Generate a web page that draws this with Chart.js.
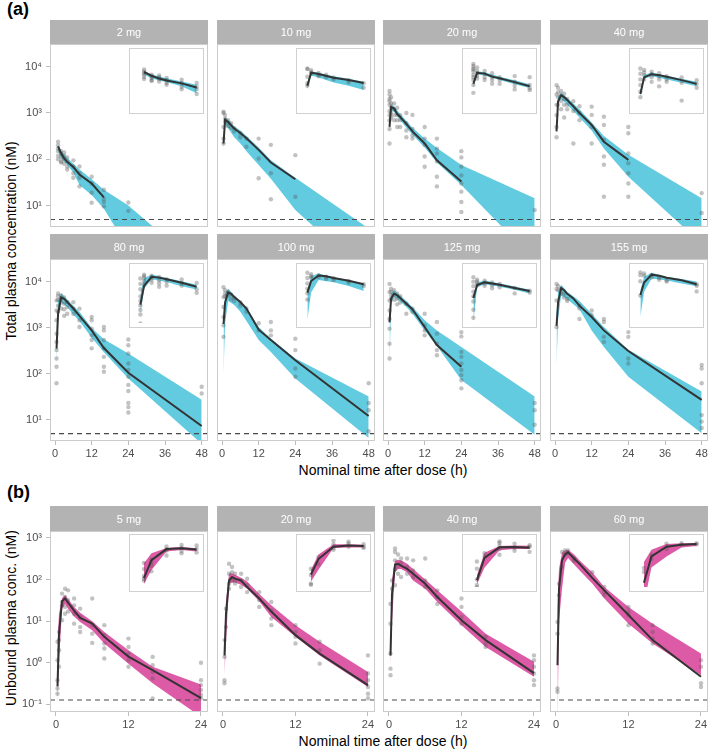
<!DOCTYPE html>
<html>
<head>
<meta charset="utf-8">
<script src="https://cdn.jsdelivr.net/npm/chart.js@4.4.1/dist/chart.umd.min.js"></script>
<style>
  body { margin: 0; background: #fff; width: 709px; height: 749px; position: relative; overflow: hidden;
         font-family: "Liberation Sans", Arial, sans-serif; color: #000; }
  .abs { position: absolute; }
  canvas { position: absolute; }
  .tag { font-weight: bold; font-size: 18px; line-height: 20px; }
  .ytitle { transform: rotate(-90deg); white-space: nowrap; font-size: 14px; line-height: 16px; text-align: center; }
  .xtitle { white-space: nowrap; font-size: 14px; line-height: 16px; text-align: center; }
  .inset { position: absolute; border: 1px solid #d0d0d0; background: #fff; box-sizing: border-box; }
</style>
</head>
<body>
<div class="abs tag" style="left:7px;top:-1px;">(a)</div>
<div class="abs tag" style="left:7px;top:482px;">(b)</div>
<div class="abs ytitle" style="left:-139px;top:233px;width:300px;">Total plasma concentration (nM)</div>
<div class="abs ytitle" style="left:-139px;top:610px;width:300px;">Unbound plasma conc. (nM)</div>
<div class="abs xtitle" style="left:183px;top:462px;width:400px;">Nominal time after dose (h)</div>
<div class="abs xtitle" style="left:183px;top:733px;width:400px;">Nominal time after dose (h)</div>

<script>
// ---- (a) total plasma concentration, 8 dose groups ----
const doseA = ['2 mg', '10 mg', '20 mg', '40 mg', '80 mg', '100 mg', '125 mg', '155 mg'];
const xTicksA = [0, 12, 24, 36, 48];
const yTicksA = [10, 100, 1000, 10000];
const lloqA = 5;

// observed median per dose: times and values (nM)
const medTA = [
  [1, 2, 3, 4, 6, 8, 12, 16],
  [0.5, 1, 2, 4, 6, 8, 12, 16, 24],
  [0.5, 1, 2, 3, 4, 6, 8, 12, 16, 24],
  [0.5, 1, 2, 3, 4, 6, 8, 12, 16, 24],
  [0.5, 1, 2, 3, 4, 6, 8, 12, 16, 24, 48],
  [0.5, 1, 2, 3, 4, 6, 8, 12, 16, 24, 48],
  [0.5, 1, 2, 3, 4, 6, 8, 12, 16, 24],
  [0.5, 1, 2, 3, 4, 6, 8, 12, 16, 24, 48]
];
const medA = [
  [190, 135, 105, 88, 68, 47, 30, 15],
  [220, 720, 640, 460, 370, 285, 160, 85, 37],
  [500, 1350, 1250, 950, 820, 580, 400, 220, 95, 33],
  [400, 1800, 2400, 2200, 1900, 1400, 1000, 550, 240, 97],
  [350, 2000, 4500, 4200, 3600, 2600, 1800, 870, 360, 105, 7.3],
  [1200, 3500, 5800, 5400, 4600, 3600, 2600, 900, 540, 195, 12],
  [1300, 4300, 5500, 5000, 4400, 3300, 2500, 1030, 420, 141],
  [1100, 3500, 7200, 6500, 5400, 4300, 3000, 1700, 870, 310, 27]
];

// prediction interval of the median (band)
const bandTA = [
  [1, 2, 4, 6, 8, 12, 16, 24, 48],
  [0.5, 1, 2, 4, 6, 8, 12, 16, 24, 48],
  [0.5, 1, 2, 4, 6, 8, 12, 16, 24, 48],
  [0.5, 1, 2, 4, 6, 8, 12, 16, 24, 48],
  [0.5, 1, 2, 4, 6, 8, 12, 16, 24, 48],
  [0.5, 1, 2, 4, 6, 8, 12, 16, 24, 48],
  [0.5, 1, 2, 4, 6, 8, 12, 16, 24, 48],
  [0.5, 1, 2, 4, 6, 8, 12, 16, 24, 48]
];
const loA = [
  [150, 105, 75, 52, 28, 17, 8.5, 1.2, 0.05],
  [150, 560, 470, 300, 220, 150, 75, 38, 8, 0.3],
  [350, 1150, 1050, 700, 480, 340, 180, 85, 28, 0.65],
  [300, 1600, 2000, 1500, 1100, 800, 420, 170, 42, 1.5],
  [150, 1500, 3600, 2800, 1900, 1400, 600, 290, 79, 3.0],
  [100, 1200, 3800, 3100, 2200, 1400, 540, 295, 79, 4],
  [150, 3500, 4600, 3700, 2800, 2000, 870, 400, 73, 4.7],
  [150, 1500, 5000, 4200, 3200, 2500, 870, 380, 86, 5.1]
];
const hiA = [
  [210, 150, 108, 80, 60, 37, 22, 10, 0.45],
  [300, 820, 720, 520, 420, 320, 180, 95, 40, 3.2],
  [700, 1550, 1400, 950, 680, 480, 280, 175, 75, 14.5],
  [600, 2300, 2800, 2100, 1600, 1200, 620, 320, 125, 14.5],
  [1000, 4000, 5600, 4100, 3000, 2200, 980, 560, 275, 27],
  [1500, 5500, 7000, 5000, 3800, 2700, 1030, 575, 213, 32],
  [1800, 5500, 6500, 5000, 3800, 2800, 1440, 870, 380, 32],
  [1800, 6000, 8500, 6000, 4800, 3800, 2000, 1030, 330, 41]
];

// observations: [nominal time, [concentrations]]
const ptsA = [
  [[1, [240, 200, 170, 150, 120, 100]], [2, [150, 130, 110, 90, 85]], [3, [140, 120, 100, 80]], [4, [110, 90, 70, 60]],
   [6, [95, 70, 50, 40]], [8, [70, 50, 40, 26]], [12, [42, 30, 19, 11.5]], [16, [22, 14, 12, 9.6]], [24, [11.7, 7.7]]],
  [[0.5, [1060, 1000, 500, 280, 220]], [1, [900, 750, 650]], [2, [700, 600, 520]], [3, [600, 480]], [4, [470, 400]],
   [6, [365, 300]], [8, [280, 187]], [12, [280, 104, 39]], [16, [205, 50, 13.7]], [24, [123, 15.5]]],
  [[0.5, [3000, 2500, 2000, 1800, 1500, 1100, 900, 700, 450, 220]], [1, [2200, 1600, 1300, 1000, 800]],
   [2, [1600, 1200, 900, 700]], [3, [1300, 900, 700, 500]], [4, [900, 700, 500]], [6, [1000, 600, 420, 300]],
   [8, [910, 450, 330, 280]], [12, [500, 280, 205, 115, 69]], [16, [280, 170, 134, 90, 42, 26]],
   [24, [150, 110, 70, 45, 30, 20, 12, 7.3]], [48, [8]]],
  [[0.5, [4000, 2500, 1500, 900, 500, 300]], [1, [3500, 2800, 2200, 1500]], [2, [3000, 2400, 1800, 1200]],
   [3, [2600, 2000, 1500, 800]], [4, [2000, 1500, 1200]], [6, [1800, 1100, 220]], [8, [1400, 1000, 700]],
   [12, [1370, 910, 500, 220]], [16, [830, 550, 263, 115, 76, 15.5]], [24, [500, 365, 134, 82, 50, 30, 15.5]],
   [48, [18.6, 6.9]]],
  [[0.5, [3900, 2360, 1440, 740, 490, 325, 213, 141, 62]], [1, [5500, 4800, 4000, 3000, 2200]],
   [2, [5000, 4200, 3500, 2600]], [3, [4500, 3300, 2500, 1800]], [4, [3600, 2800, 2000]], [6, [3550, 2580, 2000]],
   [8, [2580, 1440, 1030]], [12, [1700, 1440, 950, 680, 540, 355]], [16, [1030, 870, 540, 355, 232, 141, 110]],
   [24, [550, 415, 275, 166, 120, 86, 57, 42, 23, 18.8, 14.3]], [48, [52, 37]]],
  [[0.5, [7500, 4600, 2800, 1700, 1120, 630]], [1, [6500, 5500, 4800]], [2, [6000, 5000]], [3, [5200, 4200]],
   [4, [4500, 3800]], [6, [3500, 3000]], [8, [2600, 2200]], [12, [1240, 870]], [16, [1320, 870, 680]],
   [24, [575, 325, 129, 86]], [48, [62, 23, 16, 5.6]]],
  [[0.5, [8900, 5900, 3900, 2360, 1540, 950, 445, 213]], [1, [7000, 6000, 5000, 4200]], [2, [6500, 5000, 4000]],
   [3, [5500, 4200, 3200]], [4, [4800, 3500]], [6, [3300, 2000]], [8, [2580, 2180]], [12, [2000, 1120, 870, 680]],
   [16, [1320, 740, 445, 325, 252]], [24, [800, 645, 295, 232, 166, 120, 93, 72, 48]], [48, [23, 16, 7.8]]],
  [[0.5, [8900, 6900, 3900, 1030]], [1, [8000, 6500]], [2, [7000, 5500]], [3, [5500, 4500]], [4, [4200, 3800]],
   [8, [3000, 2600, 1540]], [12, [2360, 1860]], [16, [1540, 1320, 630, 490]], [24, [800, 630, 213, 166]],
   [48, [155, 129, 62, 12.6, 9.1, 6.6]]]
];

// inset (first 8 h) log y ranges
const insetYA = [[6.7, 1060], [27, 4300], [51, 8070], [103, 16300], [64, 10200], [73, 11600], [131, 20700], [84, 13300]];

// ---- (b) unbound plasma concentration, 4 dose groups ----
const doseB = ['5 mg', '20 mg', '40 mg', '60 mg'];
const xTicksB = [0, 12, 24];
const yTicksB = [0.1, 1, 10, 100, 1000];
const lloqB = 0.127;
const timeB = [0.25, 0.5, 1, 1.5, 2, 3, 4, 6, 8, 12, 16, 24];
const medB = [
  [0.27, 5, 30, 35, 28, 18, 12, 8.7, 4.2, 1.4, 0.66, 0.14],
  [1.5, 15, 95, 115, 105, 95, 66, 35, 17, 4.6, 1.66, 0.29],
  [1.5, 45, 230, 240, 215, 180, 138, 79, 38, 10.5, 3.5, 0.56],
  [0.87, 60, 290, 400, 450, 320, 230, 110, 55, 14, 3.5, 0.46]
];
const loB = [
  [0.1, 1, 20, 26, 20, 13, 9.5, 6, 2.9, 0.95, 0.32, 0.05],
  [0.5, 3, 80, 85, 85, 75, 60, 30, 12.6, 4.2, 1.5, 0.26],
  [0.8, 10, 150, 180, 180, 150, 95, 60, 29, 8, 2.4, 0.46],
  [0.03, 10, 60, 250, 330, 230, 160, 80, 35, 8.7, 2.9, 0.5]
];
const hiB = [
  [3, 15, 36, 42, 34, 22, 16, 10, 5.5, 2, 0.8, 0.3],
  [3, 30, 140, 140, 130, 110, 90, 45, 24, 8, 3.2, 0.6],
  [3, 100, 280, 300, 290, 240, 180, 100, 55, 17, 5, 1.05],
  [25, 180, 450, 500, 520, 400, 280, 150, 66, 22, 8.7, 1.66]
];
const ptsB = [
  [[0.25, [3.2, 1.15, 0.38, 0.24, 0.18]], [0.5, [5.5, 3.5, 2, 0.8]], [1, [46, 29, 24, 10.5]], [1.5, [60, 38, 22, 15]],
   [2, [55, 32, 17]], [3, [35, 24, 15, 8.7]], [4, [20, 12.6, 7.2, 5.5]], [6, [35, 8, 5, 3]], [8, [8, 4.6, 2.9, 2.2, 1.26]],
   [12, [3.8, 2.4, 1.66, 1.15, 0.8]], [16, [1.38, 0.87, 0.6, 0.42, 0.138]], [24, [1.0, 0.38, 0.29, 0.22, 0.17, 0.14]]],
  [[0.25, [3.5, 1.38, 0.38, 0.32]], [0.5, [20, 7.2]], [1, [240, 138, 79, 60]], [1.5, [200, 150, 95]], [2, [138, 95, 80]],
   [3, [138, 95, 66]], [4, [105, 73, 50]], [6, [50, 32, 22]], [8, [29, 18, 11.5, 8]], [12, [8, 5.5, 4.2, 2.9]],
   [16, [3.2, 2, 0.95]], [24, [1.5, 0.55, 0.38, 0.26, 0.18, 0.14]]],
  [[0.25, [26, 8.7, 1.66, 0.72, 0.5]], [0.5, [95, 60]], [1, [560, 460, 290, 180, 73]], [1.5, [400, 218, 138]],
   [2, [320, 250, 115]], [3, [320, 200, 138]], [4, [290, 166, 115]], [6, [320, 95, 66]], [8, [55, 38, 26]],
   [12, [35, 22, 12.6, 8.7]], [16, [4.2, 2.9, 2.4]], [24, [1.5, 1.15, 0.8, 0.55, 0.38, 0.29]]],
  [[0.25, [9.5, 5, 0.24, 0.2]], [0.5, [79, 42]], [1, [460, 200]], [1.5, [500, 400]], [2, [500, 420]], [3, [320, 280]],
   [6, [150]], [8, [66, 50, 42]], [12, [22, 17, 14, 8]], [16, [8, 5.5, 3.8, 2.9]], [24, [1.15, 0.8, 0.32, 0.26]]]
];
const insetYB = [[0.0625, 155], [0.23, 302], [0.52, 830], [0.44, 1000]];

// ---- layout / style ----
const FONT = '"Liberation Sans", Arial, sans-serif';
const CYAN = '#62cbe0';
const PINK = '#dd5ba6';
const colLeft = [50, 217, 383, 550];
const panelW = 158;
const yAxisW = 50, padSide = 10, xAxisH = 20, padBottom = 12;
const rowsA = [
  { stripTop: 20, stripH: 24, panelH: 183, showX: false, insetTop: 48, insetH: 66 },
  { stripTop: 234, stripH: 25, panelH: 182, showX: true, insetTop: 263, insetH: 65 }
];
const rowB = { stripTop: 506, stripH: 25, panelH: 181, showX: true, insetTop: 534, insetH: 58 };
const xRangeA = [-1.64, 50.07], yRangeA = [3.45, 30900];
const xRangeB = [-0.99, 25.16], yRangeB = [0.0653, 1472];
const insetXA = [-0.35, 8.31], insetXB = [-0.08, 2.08];

const SUP = { '-': '\u207B', '0': '\u2070', '1': '\u00B9', '2': '\u00B2', '3': '\u00B3', '4': '\u2074' };
function powLabel(v) {
  const e = Math.round(Math.log10(v));
  return '10' + String(e).split('').map(c => SUP[c]).join('');
}
function pairs(ts, vs) { return ts.map((t, i) => ({ x: t, y: vs[i] })); }
function cloud(groups) {
  const out = [];
  groups.forEach(([t, vals]) => vals.forEach(v => out.push({ x: t, y: v })));
  return out;
}

// strip on top and light frame round the panel
const framePlugin = {
  id: 'frame',
  beforeDatasetsDraw(chart, args, o) {
    const a = chart.chartArea, c = chart.ctx;
    if (!o.stripH) return;
    c.save();
    c.fillStyle = '#b3b3b3';
    c.fillRect(a.left, a.top - o.stripH, a.right - a.left, o.stripH);
    c.fillStyle = '#ffffff';
    c.font = '11px ' + FONT;
    c.textAlign = 'center';
    c.textBaseline = 'middle';
    c.fillText(o.label, (a.left + a.right) / 2, a.top - o.stripH / 2 + 1);
    c.restore();
  },
  afterDatasetsDraw(chart, args, o) {
    if (!o.border) return;
    const a = chart.chartArea, c = chart.ctx;
    c.save();
    c.strokeStyle = o.border;
    c.lineWidth = 1;
    c.strokeRect(a.left + 0.5, a.top + 0.5, a.right - a.left - 1, a.bottom - a.top - 1);
    c.restore();
  }
};

function dataSets(p, withLloq) {
  const sets = [
    { type: 'line', data: pairs(p.bandT, p.lo), borderColor: 'transparent', borderWidth: 0, pointRadius: 0, fill: false, order: 5, clip: 0 },
    { type: 'line', data: pairs(p.bandT, p.hi), borderColor: 'transparent', borderWidth: 0, pointRadius: 0,
      fill: '-1', backgroundColor: p.color, order: 4, clip: 0 },
    { type: 'scatter', data: p.pts, pointRadius: 2.2, pointBackgroundColor: 'rgba(85,85,85,0.36)',
      pointBorderWidth: 0, borderColor: 'transparent', backgroundColor: 'rgba(85,85,85,0.36)', order: 2, clip: 0 },
    { type: 'line', data: pairs(p.medT, p.med), borderColor: '#333333', borderWidth: 2, pointRadius: 0,
      fill: false, order: 1, clip: 0 }
  ];
  if (withLloq) {
    sets.push({ type: 'line', data: [{ x: p.xr[0], y: p.lloq }, { x: p.xr[1], y: p.lloq }], borderColor: '#4a4a4a',
      borderWidth: 1.1, borderDash: [5, 4], pointRadius: 0, fill: false, order: 3, clip: 0 });
  }
  return sets;
}

function drawPanel(p) {
  const first = p.col === 0;
  const showX = p.row.showX;
  const cw = (first ? yAxisW : padSide) + panelW + padSide;
  const ch = p.row.stripH + p.row.panelH + (showX ? xAxisH : padBottom);
  const cv = document.createElement('canvas');
  cv.width = cw; cv.height = ch;
  cv.style.left = (colLeft[p.col] - (first ? yAxisW : padSide)) + 'px';
  cv.style.top = p.row.stripTop + 'px';
  document.body.appendChild(cv);
  const tickFont = { size: 11, family: FONT };
  new Chart(cv, {
    type: 'line',
    data: { datasets: dataSets(p, true) },
    options: {
      responsive: false, animation: false, events: [],
      layout: { padding: { left: first ? 0 : padSide, right: padSide, top: p.row.stripH, bottom: showX ? 0 : padBottom } },
      plugins: { legend: { display: false }, tooltip: { enabled: false },
                 frame: { label: p.label, stripH: p.row.stripH, border: '#cccccc' } },
      scales: {
        x: {
          type: 'linear', min: p.xr[0], max: p.xr[1], display: showX,
          afterBuildTicks: s => { s.ticks = p.xTicks.map(v => ({ value: v })); },
          afterFit: s => { if (showX) s.height = xAxisH; },
          grid: { drawOnChartArea: false, tickLength: 4, color: '#bdbdbd' },
          border: { display: false },
          ticks: { font: tickFont, color: '#4d4d4d', padding: 2, maxRotation: 0, autoSkip: false }
        },
        y: {
          type: 'logarithmic', min: p.yr[0], max: p.yr[1], display: first,
          afterBuildTicks: s => { s.ticks = p.yTicks.map(v => ({ value: v })); },
          afterFit: s => { if (first) s.width = yAxisW; },
          grid: { drawOnChartArea: false, tickLength: 4, color: '#bdbdbd' },
          border: { display: false },
          ticks: { font: tickFont, color: '#4d4d4d', padding: 4, autoSkip: false, callback: v => powLabel(v) }
        }
      }
    },
    plugins: [framePlugin]
  });
}

function drawInset(p, tMax) {
  const box = document.createElement('div');
  box.className = 'inset';
  const w = 75, h = p.row.insetH;
  box.style.left = (colLeft[p.col] + 79) + 'px';
  box.style.top = p.row.insetTop + 'px';
  box.style.width = w + 'px';
  box.style.height = h + 'px';
  document.body.appendChild(box);
  const cv = document.createElement('canvas');
  cv.width = w - 2; cv.height = h - 2;
  cv.style.left = '0px'; cv.style.top = '0px';
  box.appendChild(cv);
  const keep = (ts, vs) => {
    const idx = ts.map((t, i) => i).filter(i => ts[i] <= tMax);
    return [idx.map(i => ts[i]), idx.map(i => vs[i])];
  };
  const [bt, lo] = keep(p.bandT, p.lo);
  const [, hi] = keep(p.bandT, p.hi);
  const [mt, md] = keep(p.medT, p.med);
  const q = Object.assign({}, p, { bandT: bt, lo: lo, hi: hi, medT: mt, med: md,
                                  pts: p.pts.filter(pt => pt.x <= tMax) });
  new Chart(cv, {
    type: 'line',
    data: { datasets: dataSets(q, false) },
    options: {
      responsive: false, animation: false, events: [],
      layout: { padding: 0 },
      plugins: { legend: { display: false }, tooltip: { enabled: false } },
      scales: {
        x: { type: 'linear', min: p.ix[0], max: p.ix[1], display: false },
        y: { type: 'logarithmic', min: p.iy[0], max: p.iy[1], display: false }
      }
    }
  });
}

// (a)
for (let i = 0; i < doseA.length; i++) {
  const p = {
    label: doseA[i], col: i % 4, row: rowsA[i < 4 ? 0 : 1], color: CYAN,
    xr: xRangeA, yr: yRangeA, xTicks: xTicksA, yTicks: yTicksA, lloq: lloqA,
    medT: medTA[i], med: medA[i], bandT: bandTA[i], lo: loA[i], hi: hiA[i], pts: cloud(ptsA[i]),
    ix: insetXA, iy: insetYA[i]
  };
  drawPanel(p);
  drawInset(p, 8);
}
// (b)
for (let i = 0; i < doseB.length; i++) {
  const p = {
    label: doseB[i], col: i, row: rowB, color: PINK,
    xr: xRangeB, yr: yRangeB, xTicks: xTicksB, yTicks: yTicksB, lloq: lloqB,
    medT: timeB, med: medB[i], bandT: timeB, lo: loB[i], hi: hiB[i], pts: cloud(ptsB[i]),
    ix: insetXB, iy: insetYB[i]
  };
  drawPanel(p);
  drawInset(p, 2);
}
</script>
</body>
</html>
